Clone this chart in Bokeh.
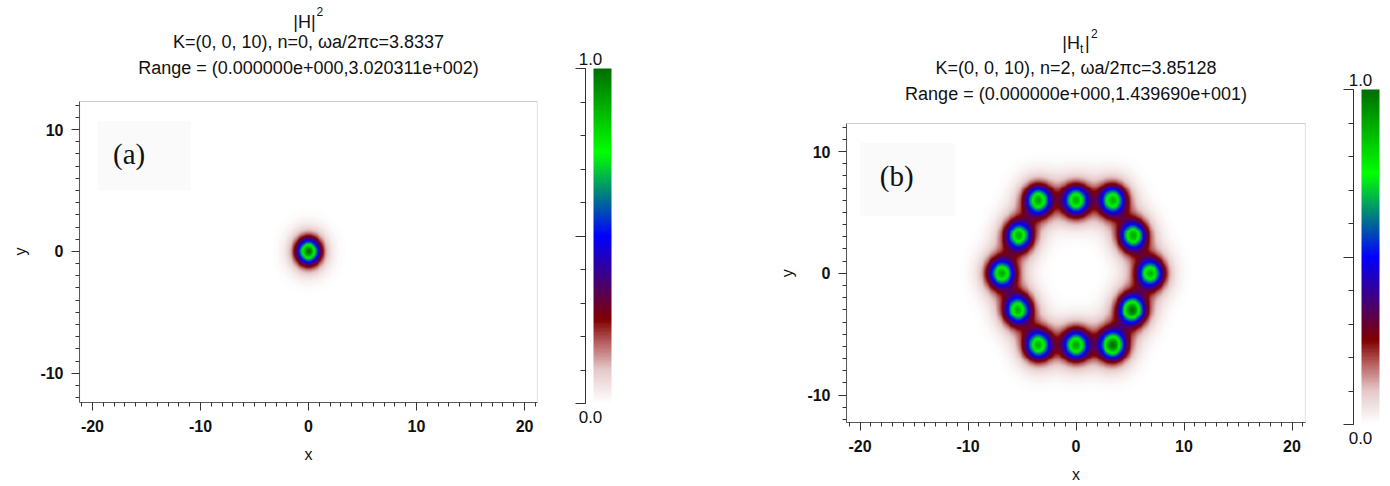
import numpy as np
from bokeh.plotting import figure
from bokeh.models import (LinearColorMapper, Label, BoxAnnotation, Title,
                          SingleIntervalTicker, Range1d)
from bokeh.layouts import row
from bokeh.embed import file_html
from bokeh.resources import INLINE

# ---------------- data ----------------
# panel (a): single mode at the centre
a_spot_x = [0.0]
a_spot_y = [0.0]
a_spot_amp = [1.0]
a_core_sigma = 0.68
a_halo_sigma = 1.2
a_halo_frac = 0.3

# panel (b): twelve lobes around a hexagon
b_spot_x = [-3.5, 0.0, 3.4, -5.3, 5.3, -6.9, 6.9, -5.4, 5.2, -3.5, 0.0, 3.4]
b_spot_y = [6.0, 6.0, 6.0, 3.1, 3.1, 0.0, 0.0, -3.0, -3.0, -5.9, -5.9, -5.9]
b_spot_amp = [0.9, 0.88, 0.88, 0.88, 0.9, 0.9, 0.88, 0.88, 1.0, 0.88, 0.9, 1.0]
b_core_sigma = 0.77
b_halo_sigma = 1.35
b_halo_frac = 0.35

a_title = ["K=(0, 0, 10), n=0, \u03c9a/2\u03c0c=3.8337",
           "Range = (0.000000e+000,3.020311e+002)"]
b_title = ["K=(0, 0, 10), n=2, \u03c9a/2\u03c0c=3.85128",
           "Range = (0.000000e+000,1.439690e+001)"]

a_xrange = (-21.2, 21.2)
a_yrange = (-12.4, 12.3)
b_xrange = (-21.25, 21.25)
b_yrange = (-12.25, 12.3)

cbar_range = (0.0, 1.0)
cbar_labels = ["0.0", "1.0"]

# colour map stops (value, rgb)
cmap_pos = [0.0, 0.1, 0.18, 0.25, 0.5, 0.75, 1.0]
cmap_rgb = [(255, 255, 255), (230, 200, 200), (182, 96, 96), (128, 0, 0),
            (0, 0, 255), (0, 255, 0), (0, 110, 0)]

# ---------------- helpers ----------------
def make_palette(n=256):
    t = np.linspace(0, 1, n)
    rgb = np.array(cmap_rgb, dtype=float)
    r = np.interp(t, cmap_pos, rgb[:, 0])
    g = np.interp(t, cmap_pos, rgb[:, 1])
    b = np.interp(t, cmap_pos, rgb[:, 2])
    return ["#%02x%02x%02x" % (int(round(a)), int(round(bb)), int(round(c)))
            for a, bb, c in zip(r, g, b)]

PALETTE = make_palette()


def field(xs, ys, amps, s1, s2, f, xr, yr, res=0.08):
    nx = int((xr[1] - xr[0]) / res)
    ny = int((yr[1] - yr[0]) / res)
    gx = np.linspace(xr[0], xr[1], nx)
    gy = np.linspace(yr[0], yr[1], ny)
    X, Y = np.meshgrid(gx, gy)
    I = np.zeros_like(X)
    for x0, y0, a in zip(xs, ys, amps):
        r2 = (X - x0) ** 2 + (Y - y0) ** 2
        I += a * (np.exp(-r2 / (2 * s1 ** 2)) + f * np.exp(-r2 / (2 * s2 ** 2)))
    I = I / I.max()
    return I.astype(np.float32)


FONT = "Liberation Sans"
EDGE = "#5a5a5a"


def main_panel(xs, ys, amps, s1, s2, f, xr, yr, fw, top_px, bottom_px, bl, br, total_h=486):
    # the frame runs from the canvas top down to the visible bottom axis, so
    # that the title lines above the plot live inside the frame
    fh = bottom_px
    scale = (bottom_px - top_px) / (yr[1] - yr[0])
    ytop = yr[0] + fh / scale
    p = figure(x_range=Range1d(*xr), y_range=Range1d(yr[0], ytop),
               frame_width=fw, frame_height=fh,
               min_border_left=bl, min_border_right=br,
               min_border_top=0, min_border_bottom=total_h - bottom_px,
               output_backend="svg", toolbar_location=None, tools="")
    mapper = LinearColorMapper(palette=PALETTE, low=0.0, high=1.0)
    img = field(xs, ys, amps, s1, s2, f, xr, yr)
    p.image(image=[img], x=xr[0], y=yr[0], dw=xr[1] - xr[0],
            dh=yr[1] - yr[0], color_mapper=mapper)
    p.xgrid.visible = False
    p.ygrid.visible = False
    p.outline_line_color = None
    p.add_layout(BoxAnnotation(left=xr[0], right=xr[1], bottom=yr[0], top=yr[1],
                               fill_alpha=0, line_color=EDGE, line_width=1.2))
    for ax in (p.xaxis[0], p.yaxis[0]):
        ax.ticker = SingleIntervalTicker(interval=10, num_minor_ticks=10)
        ax.axis_line_color = EDGE
        ax.major_tick_line_color = "#333333"
        ax.minor_tick_line_color = "#333333"
        ax.major_tick_in = 0
        ax.minor_tick_in = 0
        ax.major_tick_out = 8
        ax.minor_tick_out = 4
        ax.major_label_text_font = FONT
        ax.major_label_text_font_size = "16px"
        ax.major_label_text_font_style = "bold"
        ax.major_label_text_color = "#111111"
        ax.major_label_overrides = {-20: "-20", -10: "-10"}
        ax.axis_label_text_font = FONT
        ax.axis_label_text_font_size = "16px"
        ax.axis_label_text_font_style = "normal"
        ax.axis_label_text_color = "#111111"
    p.yaxis.bounds = yr
    p.xaxis.axis_label = "x"
    p.xaxis.major_label_standoff = 9
    p.xaxis.axis_label_standoff = 11
    p.yaxis.major_label_standoff = 8
    # y label centred on the visible axis (bottom of frame is y range start)
    centre_from_bottom = (0 - yr[0]) * scale
    p.add_layout(Title(text="y", align="left", offset=centre_from_bottom - 4,
                       text_font=FONT, text_font_size="16px",
                       text_font_style="normal", text_color="#111111",
                       standoff=18), "left")
    return p, ytop, scale


def cbar_panel(frame_left_px, axis_px, label_px, top_px, bottom_px, frame_bottom_px,
               bl, br, fw, total_h=486):
    scale = bottom_px - top_px  # px per unit of the 0..1 bar
    ytop = cbar_range[1] + top_px / scale
    ybot = cbar_range[0] - (frame_bottom_px - bottom_px) / scale
    c = figure(x_range=Range1d(0, fw), y_range=Range1d(ybot, ytop),
               frame_width=fw, frame_height=frame_bottom_px,
               min_border_left=bl, min_border_right=br,
               min_border_top=0, min_border_bottom=total_h - frame_bottom_px,
               output_backend="svg", toolbar_location=None, tools="")
    ax_x = axis_px - frame_left_px
    mapper = LinearColorMapper(palette=PALETTE, low=0.0, high=1.0)
    grad = np.linspace(cbar_range[0], cbar_range[1], 256).reshape(256, 1).astype(np.float32)
    c.image(image=[grad], x=ax_x + 8, y=cbar_range[0], dw=18,
            dh=cbar_range[1] - cbar_range[0], color_mapper=mapper)
    c.xaxis.visible = False
    c.xgrid.visible = False
    c.ygrid.visible = False
    c.outline_line_color = None
    ax = c.yaxis[0]
    ax.fixed_location = ax_x
    ax.ticker = SingleIntervalTicker(interval=0.5, num_minor_ticks=5)
    ax.bounds = cbar_range
    ax.axis_line_color = "#333333"
    ax.major_tick_line_color = "#333333"
    ax.minor_tick_line_color = "#333333"
    ax.major_tick_in = 0
    ax.minor_tick_in = 0
    ax.major_tick_out = 10
    ax.minor_tick_out = 5
    ax.major_label_overrides = {0: "", 0.5: "", 1: ""}
    ax.major_label_standoff = 0
    lx = label_px - frame_left_px
    c.add_layout(Label(x=lx, y=cbar_range[1] + 10 / scale, text=cbar_labels[1],
                       text_font=FONT, text_font_size="17px", text_align="center",
                       text_baseline="middle", text_color="#111111"))
    c.add_layout(Label(x=lx, y=cbar_range[0] - 13 / scale, text=cbar_labels[0],
                       text_font=FONT, text_font_size="17px", text_align="center",
                       text_baseline="middle", text_color="#111111"))
    return c


def txt(p, x, y, s, size="18px", xo=0, yo=0, align="center", font=FONT):
    p.add_layout(Label(x=x, y=y, x_offset=xo, y_offset=yo, text=s,
                       text_font=font, text_font_size=size, text_align=align,
                       text_baseline="middle", text_color="#111111"))


# ---------------- panel (a) ----------------
pa, ta, sa = main_panel(a_spot_x, a_spot_y, a_spot_amp, a_core_sigma, a_halo_sigma,
                        a_halo_frac, a_xrange, a_yrange, 458, 101, 402, 79, 36)
ya = lambda py: ta - py / sa
txt(pa, 0, ya(21), "|H|", xo=-4)
txt(pa, 0, ya(11), "2", size="12px", xo=8, align="left")
txt(pa, 0, ya(41), a_title[0])
txt(pa, 0, ya(67), a_title[1])
pa.add_layout(BoxAnnotation(left=-19.5, right=-10.9, bottom=5.0, top=10.7,
                            fill_color="#f6f6f6", fill_alpha=0.5, line_color=None))
txt(pa, -16.6, 8.0, "(a)", size="29px", font="Liberation Serif")

# colour bar (a): figure from x=573, axis at 585, labels centred near 589
ca = cbar_panel(573, 585, 590, 68, 403, 432, 0, 7, 45)

# ---------------- panel (b) ----------------
pb, tb, sb = main_panel(b_spot_x, b_spot_y, b_spot_amp, b_core_sigma, b_halo_sigma,
                        b_halo_frac, b_xrange, b_yrange, 459, 123, 422, 221, 36)
yb = lambda py: tb - py / sb
txt(pb, 0, yb(42), "|H", xo=4, align="right")
txt(pb, 0, yb(48), "t", size="12px", xo=4, align="left")
txt(pb, 0, yb(42), "|", xo=9, align="left")
txt(pb, 0, yb(33), "2", size="12px", xo=15, align="left")
txt(pb, 0, yb(67), b_title[0])
txt(pb, 0, yb(93), b_title[1])
pb.add_layout(BoxAnnotation(left=-20.0, right=-11.2, bottom=4.75, top=10.7,
                            fill_color="#f6f6f6", fill_alpha=0.5, line_color=None))
txt(pb, -16.6, 8.0, "(b)", size="29px", font="Liberation Serif")

# colour bar (b): figure from x=1341, axis at 1353
cb = cbar_panel(1341, 1353, 1360, 89, 424, 452, 0, 0, 49)

layout = row(pa, ca, pb, cb)
open("out.html", "w").write(file_html(layout, INLINE))
